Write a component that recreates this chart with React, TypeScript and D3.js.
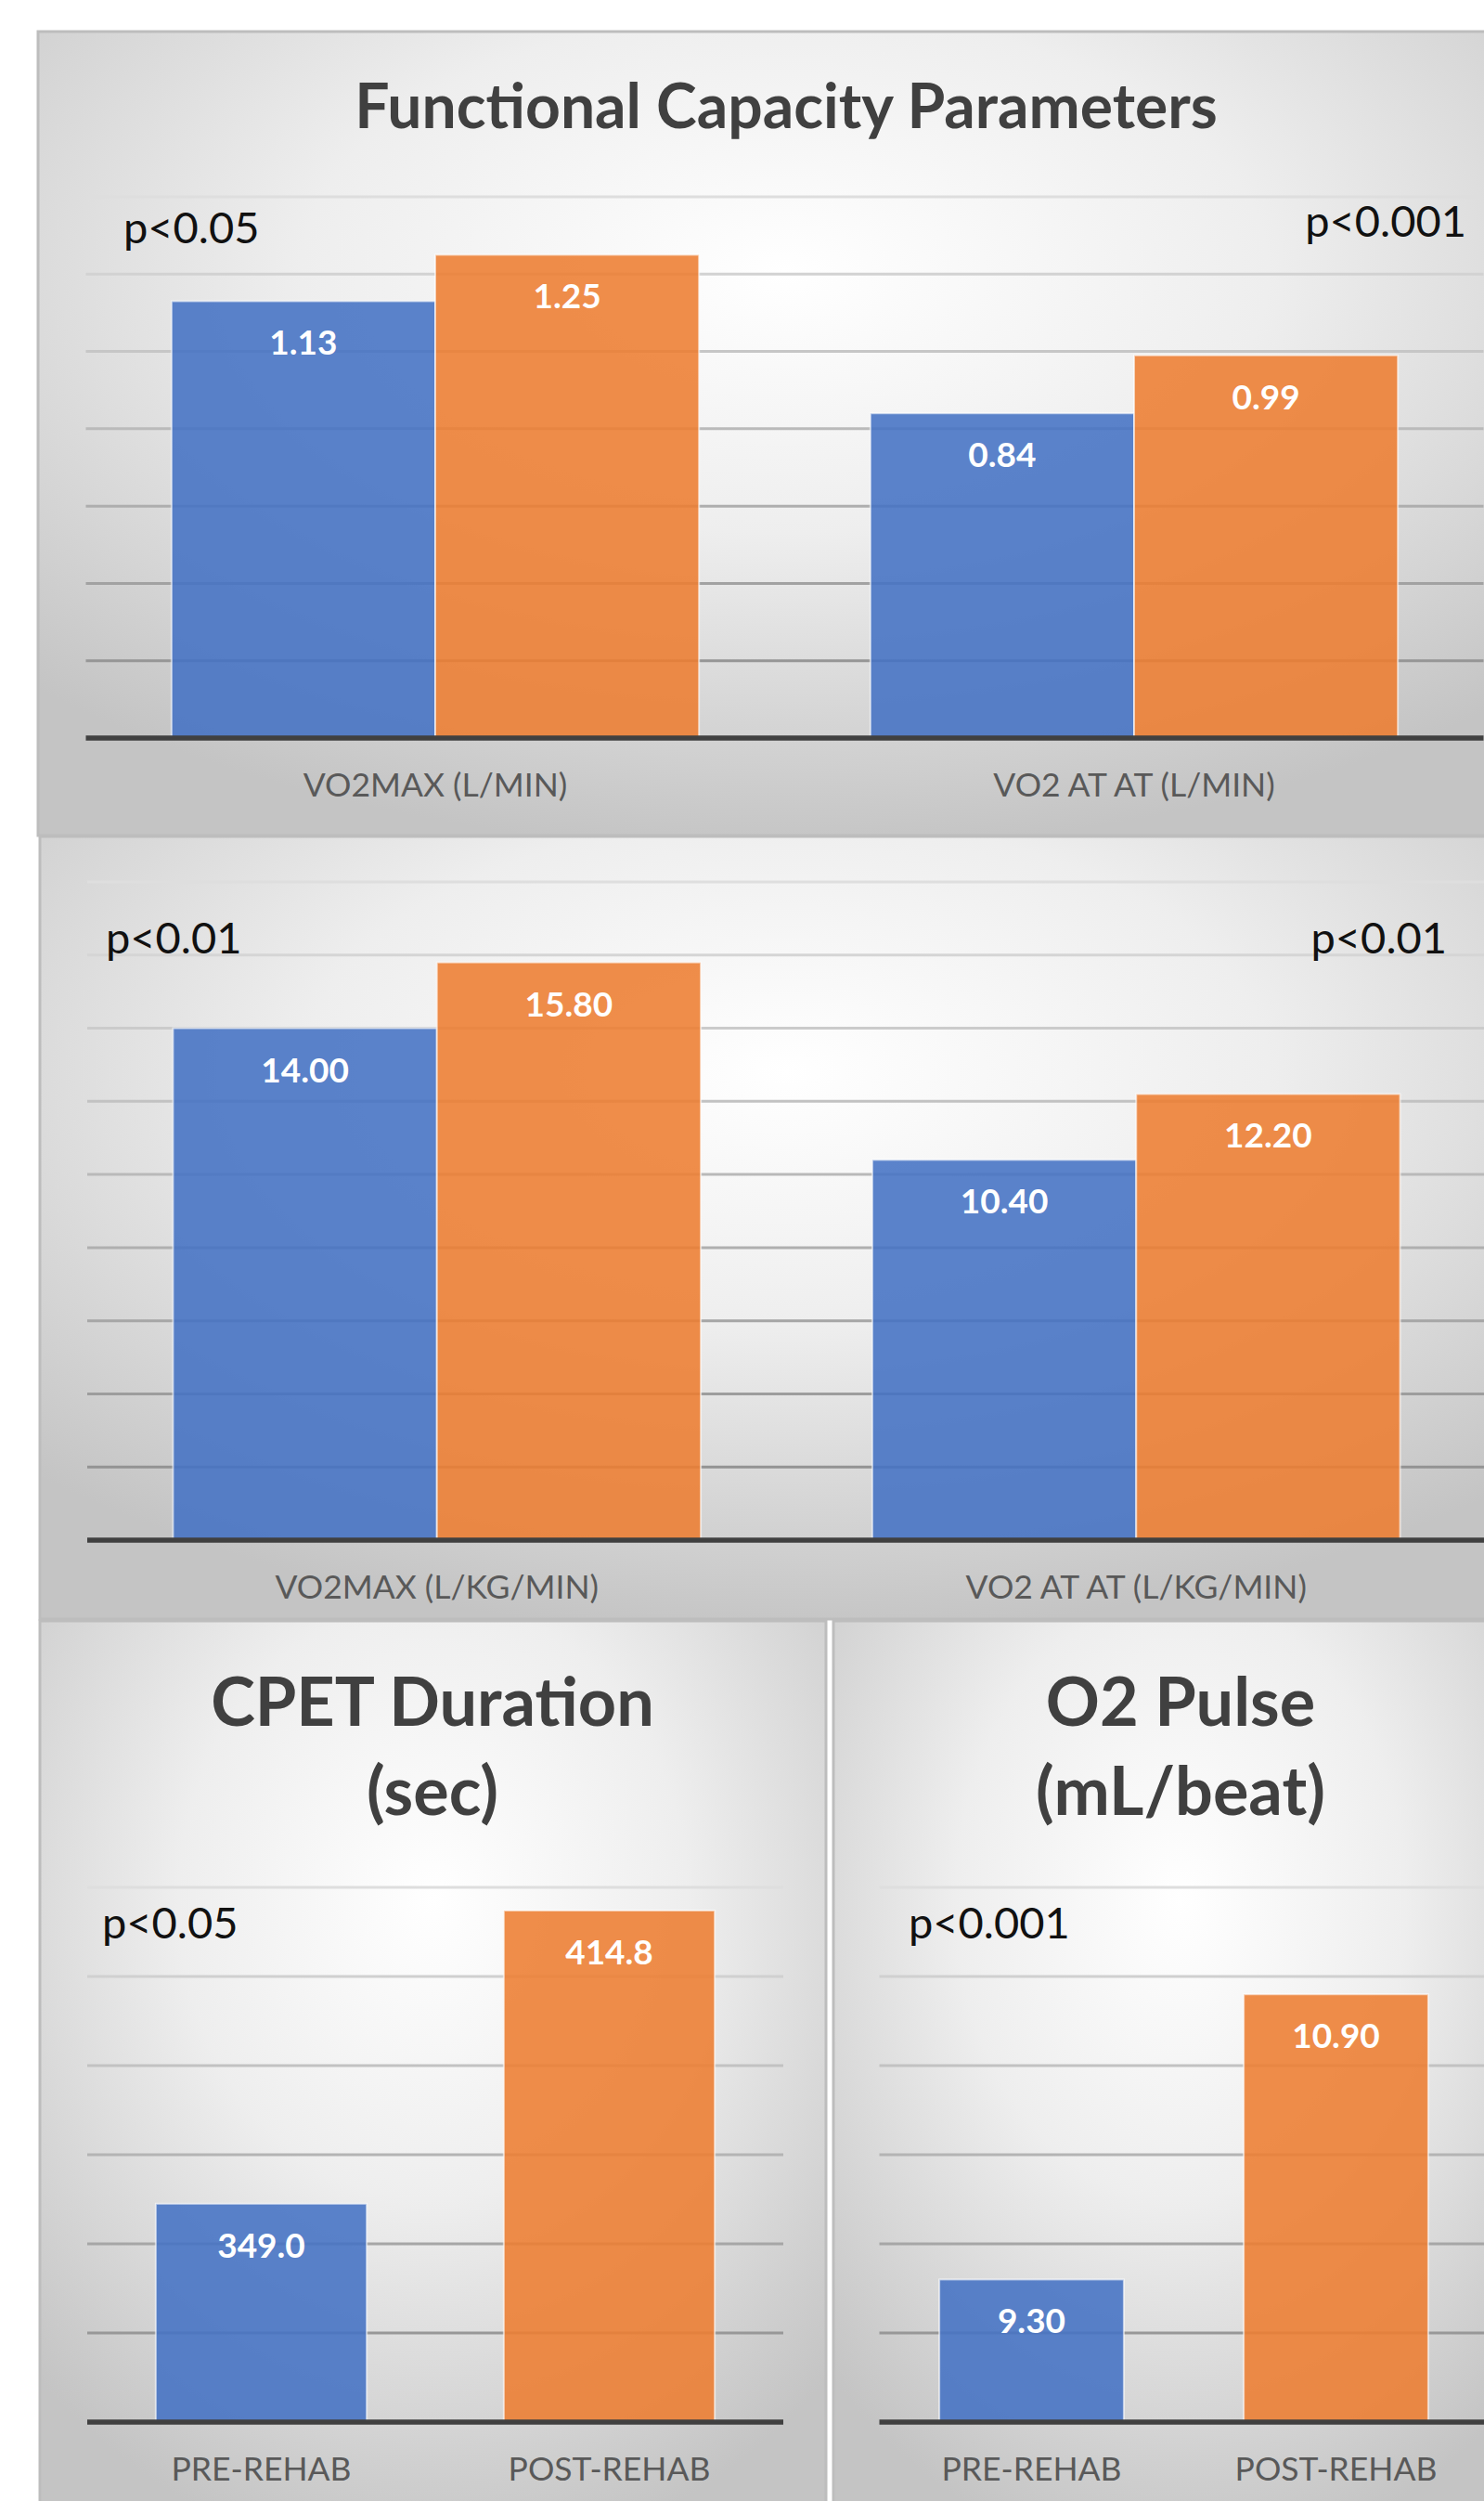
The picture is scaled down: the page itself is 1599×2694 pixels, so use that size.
import * as d3 from "d3";

const W = 1599;
const H = 2694;
const FONT = "Lato, 'Open Sans', sans-serif";
const BLUE = "#4472C4";
const ORANGE = "#ED7D31";

// ---- data ----
const capCats = ["VO2MAX (L/MIN)", "VO2 AT AT (L/MIN)"];
const capPre = [1.13, 0.84];
const capPost = [1.25, 0.99];
const capP = ["p<0.05", "p<0.001"];
const capTicks = [0, 0.2, 0.4, 0.6, 0.8, 1.0, 1.2, 1.4];

const kgCats = ["VO2MAX (L/KG/MIN)", "VO2 AT AT (L/KG/MIN)"];
const kgPre = [14.0, 10.4];
const kgPost = [15.8, 12.2];
const kgP = ["p<0.01", "p<0.01"];
const kgTicks = [0, 2, 4, 6, 8, 10, 12, 14, 16, 18];

const rehabCats = ["PRE-REHAB", "POST-REHAB"];
const cpetValues = [349.0, 414.8];
const cpetP = "p<0.05";
const cpetTicks = [300, 320, 340, 360, 380, 400, 420];

const pulseValues = [9.3, 10.9];
const pulseP = "p<0.001";
const pulseTicks = [8.5, 9, 9.5, 10, 10.5, 11, 11.5];

const GAP = 0.65; // excel-style gap width

type Series = { values: number[]; colors: string[] };

function BarPlot({ cats, series, ticks, x0, x1, yBottom, yTop, fmt }: {
  cats: string[]; series: Series[]; ticks: number[];
  x0: number; x1: number; yBottom: number; yTop: number; fmt: string;
}) {
  const n = series.length;
  const pad = GAP / (n + GAP);
  const x = d3.scaleBand<string>().domain(cats).range([x0, x1]).paddingInner(pad).paddingOuter(pad / 2);
  const inner = d3.scaleBand<number>().domain(d3.range(n)).range([0, x.bandwidth()]);
  const y = d3.scaleLinear().domain([ticks[0], ticks[ticks.length - 1]]).range([yBottom, yTop]);
  const f = d3.format(fmt);
  const gridColor = d3.scaleLinear<string>().domain([ticks[ticks.length - 1], ticks[0]]).range(["#dedede", "#8a8a8a"]);

  return (
    <g>
      {ticks.slice(1).map((t) => (
        <line key={t} x1={x0} x2={x1} y1={y(t)} y2={y(t)} stroke={gridColor(t)} strokeWidth={3} />
      ))}
      {series.map((s, si) =>
        cats.map((c, ci) => {
          const bx = x(c)! + inner(si)!;
          const by = y(s.values[ci]);
          return (
            <g key={`${si}-${ci}`}>
              <rect x={bx} y={by} width={inner.bandwidth()} height={yBottom - by}
                fill={s.colors[ci]} fillOpacity={0.88} stroke="#ffffff" strokeOpacity={0.6} strokeWidth={2} />
              <text x={bx + inner.bandwidth() / 2} y={by + 58} textAnchor="middle" fill="#ffffff"
                fontFamily={FONT} fontWeight={700} fontSize={37}>{f(s.values[ci])}</text>
            </g>
          );
        })
      )}
      <line x1={x0} x2={x1} y1={yBottom} y2={yBottom} stroke="#404040" strokeWidth={5.5} />
      {cats.map((c) => (
        <text key={c} x={x(c)! + x.bandwidth() / 2} y={yBottom + 63} textAnchor="middle" fill="#595959"
          fontFamily={FONT} fontSize={35.5}>{c}</text>
      ))}
    </g>
  );
}

const pStyle = { fontFamily: FONT, fontSize: 47, fill: "#111111" };
const titleStyle = { fontFamily: FONT, fontWeight: 700, fill: "#404040" };

export default function App() {
  return (
    <svg width={W} height={H} style={{ position: "absolute", left: 0, top: 0, display: "block", background: "#ffffff" }}>
      <defs>
        <radialGradient id="panelBg" cx="0.5" cy="0.3" r="0.72">
          <stop offset="0" stopColor="#ffffff" />
          <stop offset="0.45" stopColor="#eeeeee" />
          <stop offset="1" stopColor="#c4c4c4" />
        </radialGradient>
      </defs>

      {/* panels */}
      <rect x={41} y={34} width={1609} height={866} fill="url(#panelBg)" stroke="#bdbdbd" strokeWidth={3} />
      <rect x={43} y={901} width={1607} height={843} fill="url(#panelBg)" stroke="#bdbdbd" strokeWidth={3} />
      <rect x={43} y={1746} width={847} height={1000} fill="url(#panelBg)" stroke="#bdbdbd" strokeWidth={3} />
      <rect x={898} y={1746} width={748} height={1000} fill="url(#panelBg)" stroke="#bdbdbd" strokeWidth={3} />

      {/* panel 1 */}
      <text x={847} y={138} textAnchor="middle" fontSize={66} {...titleStyle}>Functional Capacity Parameters</text>
      <BarPlot cats={capCats} ticks={capTicks} x0={92.5} x1={1598.5} yBottom={795} yTop={212} fmt=".2f"
        series={[{ values: capPre, colors: [BLUE, BLUE] }, { values: capPost, colors: [ORANGE, ORANGE] }]} />
      <text x={133} y={262} {...pStyle}>{capP[0]}</text>
      <text x={1580} y={255} textAnchor="end" {...pStyle}>{capP[1]}</text>

      {/* panel 2 */}
      <BarPlot cats={kgCats} ticks={kgTicks} x0={94} x1={1601} yBottom={1659} yTop={950} fmt=".2f"
        series={[{ values: kgPre, colors: [BLUE, BLUE] }, { values: kgPost, colors: [ORANGE, ORANGE] }]} />
      <text x={114} y={1027} {...pStyle}>{kgP[0]}</text>
      <text x={1559} y={1027} textAnchor="end" {...pStyle}>{kgP[1]}</text>

      {/* panel 3 */}
      <text x={466} y={1859} textAnchor="middle" fontSize={72} {...titleStyle}>CPET Duration</text>
      <text x={466} y={1955} textAnchor="middle" fontSize={72} {...titleStyle}>(sec)</text>
      <BarPlot cats={rehabCats} ticks={cpetTicks} x0={94} x1={844} yBottom={2609} yTop={2033} fmt=".1f"
        series={[{ values: cpetValues, colors: [BLUE, ORANGE] }]} />
      <text x={110} y={2088} {...pStyle}>{cpetP}</text>

      {/* panel 4 */}
      <text x={1272} y={1859} textAnchor="middle" fontSize={72} {...titleStyle}>O2 Pulse</text>
      <text x={1272} y={1955} textAnchor="middle" fontSize={72} {...titleStyle}>(mL/beat)</text>
      <BarPlot cats={rehabCats} ticks={pulseTicks} x0={947.5} x1={1603.5} yBottom={2609} yTop={2033} fmt=".2f"
        series={[{ values: pulseValues, colors: [BLUE, ORANGE] }]} />
      <text x={979} y={2088} {...pStyle}>{pulseP}</text>
    </svg>
  );
}
